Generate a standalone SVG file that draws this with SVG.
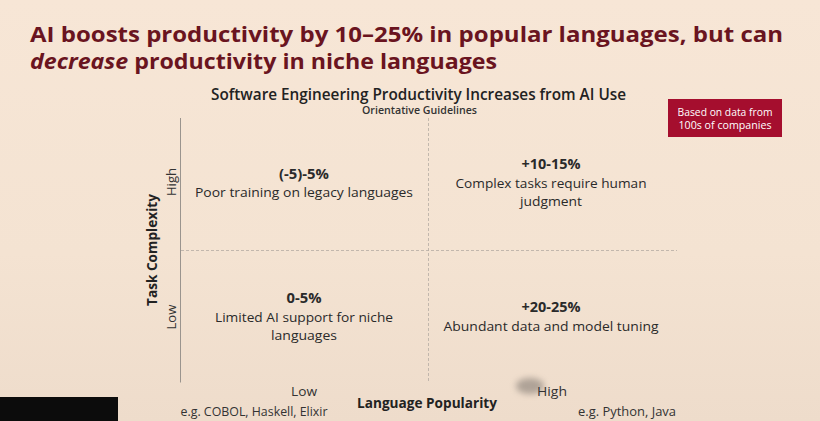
<svg xmlns="http://www.w3.org/2000/svg" width="820" height="421" viewBox="0 0 820 421">
  <defs>
    <linearGradient id="bg" x1="0" y1="0" x2="0" y2="1">
      <stop offset="0" stop-color="#f7e6d6"/>
      <stop offset="0.6" stop-color="#f4e3d2"/>
      <stop offset="1" stop-color="#eedccb"/>
    </linearGradient>
    <linearGradient id="xfade" x1="0" y1="0" x2="1" y2="0">
      <stop offset="0" stop-color="#9a948e"/>
      <stop offset="0.8" stop-color="#9a948e"/>
      <stop offset="1" stop-color="#9a948e" stop-opacity="0"/>
    </linearGradient>
    <filter id="blur" x="-50%" y="-50%" width="200%" height="200%">
      <feGaussianBlur stdDeviation="3"/>
    </filter>
  </defs>
  <style>
    .title { font-family: "Open Sans", "Liberation Sans", sans-serif; font-weight: 700; font-size: 21.5px; fill: #6a1420; }
    .ctitle { font-family: "Open Sans", "Liberation Sans", sans-serif; font-weight: 600; font-size: 15.5px; fill: #222; }
    .sub { font-family: "Open Sans", "Liberation Sans", sans-serif; font-weight: 600; font-size: 10.5px; fill: #333; }
    .val { font-family: "Open Sans", "Liberation Sans", sans-serif; font-weight: 700; font-size: 14px; fill: #2a2a2a; text-anchor: middle; }
    .txt { font-family: "Open Sans", "Liberation Sans", sans-serif; font-size: 13.5px; fill: #2a2a2a; text-anchor: middle; }
    .axl { font-family: "Open Sans", "Liberation Sans", sans-serif; font-size: 13px; fill: #333; text-anchor: middle; }
    .axt { font-family: "Open Sans", "Liberation Sans", sans-serif; font-weight: 700; font-size: 14px; fill: #222; text-anchor: middle; }
    .eg { font-family: "Open Sans", "Liberation Sans", sans-serif; font-size: 12.5px; fill: #333; text-anchor: middle; }
    .note { font-family: "Open Sans", "Liberation Sans", sans-serif; font-size: 10.5px; fill: #ffffff; text-anchor: middle; }
    .axis { stroke: #9a948e; stroke-width: 1; fill: none; }
    .grid { stroke: #b5aca3; stroke-width: 0.8; stroke-dasharray: 3 2; fill: none; }
  </style>

  <rect x="0" y="0" width="820" height="421" fill="url(#bg)"/>

  <g id="heading">
    <text class="title" x="30" y="42" textLength="753" lengthAdjust="spacingAndGlyphs">AI boosts productivity by 10–25% in popular languages, but can</text>
    <text class="title" x="30" y="69" textLength="467" lengthAdjust="spacingAndGlyphs"><tspan font-style="italic">decrease</tspan> productivity in niche languages</text>
  </g>

  <g id="chart-title">
    <text class="ctitle" x="211" y="99.5" textLength="415" lengthAdjust="spacingAndGlyphs">Software Engineering Productivity Increases from AI Use</text>
    <text class="sub" x="362" y="114" textLength="115" lengthAdjust="spacingAndGlyphs">Orientative Guidelines</text>
  </g>

  <g id="note">
    <rect x="668" y="99" width="114" height="38" fill="#a50e2e"/>
    <text class="note" x="725" y="116" textLength="95" lengthAdjust="spacingAndGlyphs">Based on data from</text>
    <text class="note" x="725" y="129" textLength="93" lengthAdjust="spacingAndGlyphs">100s of companies</text>
  </g>

  <g id="connectors">
    <line class="axis" x1="180.5" y1="118" x2="180.5" y2="382.5"/>
    <line x1="180" y1="382.5" x2="676" y2="382.5" stroke="url(#xfade)" stroke-width="1"/>
    <line class="grid" x1="428.5" y1="118" x2="428.5" y2="382"/>
    <line class="grid" x1="181" y1="250.5" x2="677" y2="250.5"/>
  </g>

  <ellipse cx="530" cy="386" rx="14" ry="8" fill="#7a726c" opacity="0.55" filter="url(#blur)"/>

  <g id="q-high-low">
    <text class="val" x="304" y="179" textLength="50" lengthAdjust="spacingAndGlyphs">(-5)-5%</text>
    <text class="txt" x="304" y="197" textLength="218" lengthAdjust="spacingAndGlyphs">Poor training on legacy languages</text>
  </g>
  <g id="q-high-high">
    <text class="val" x="551" y="169" textLength="59" lengthAdjust="spacingAndGlyphs">+10-15%</text>
    <text class="txt" x="551" y="188" textLength="191" lengthAdjust="spacingAndGlyphs">Complex tasks require human</text>
    <text class="txt" x="551" y="206" textLength="62" lengthAdjust="spacingAndGlyphs">judgment</text>
  </g>
  <g id="q-low-low">
    <text class="val" x="304" y="303" textLength="35" lengthAdjust="spacingAndGlyphs">0-5%</text>
    <text class="txt" x="304" y="322" textLength="178" lengthAdjust="spacingAndGlyphs">Limited AI support for niche</text>
    <text class="txt" x="304" y="340" textLength="66" lengthAdjust="spacingAndGlyphs">languages</text>
  </g>
  <g id="q-low-high">
    <text class="val" x="551" y="312" textLength="59" lengthAdjust="spacingAndGlyphs">+20-25%</text>
    <text class="txt" x="551" y="331" textLength="215" lengthAdjust="spacingAndGlyphs">Abundant data and model tuning</text>
  </g>

  <g id="y-axis-labels">
    <text class="axt" transform="translate(157 250) rotate(-90)" textLength="112" lengthAdjust="spacingAndGlyphs">Task Complexity</text>
    <text class="axl" transform="translate(176 182) rotate(-90)" textLength="28" lengthAdjust="spacingAndGlyphs">High</text>
    <text class="axl" transform="translate(176 317) rotate(-90)" textLength="25" lengthAdjust="spacingAndGlyphs">Low</text>
  </g>

  <g id="x-axis-labels">
    <text class="axl" x="304" y="396" textLength="26" lengthAdjust="spacingAndGlyphs">Low</text>
    <text class="axl" x="552" y="396" textLength="30" lengthAdjust="spacingAndGlyphs">High</text>
    <text class="axt" x="427" y="407.5" textLength="140" lengthAdjust="spacingAndGlyphs">Language Popularity</text>
    <text class="eg" x="254" y="416" textLength="147" lengthAdjust="spacingAndGlyphs">e.g. COBOL, Haskell, Elixir</text>
    <text class="eg" x="627" y="416" textLength="98" lengthAdjust="spacingAndGlyphs">e.g. Python, Java</text>
  </g>

  <rect x="0" y="397" width="118" height="24" fill="#0c0c0c"/>
</svg>
